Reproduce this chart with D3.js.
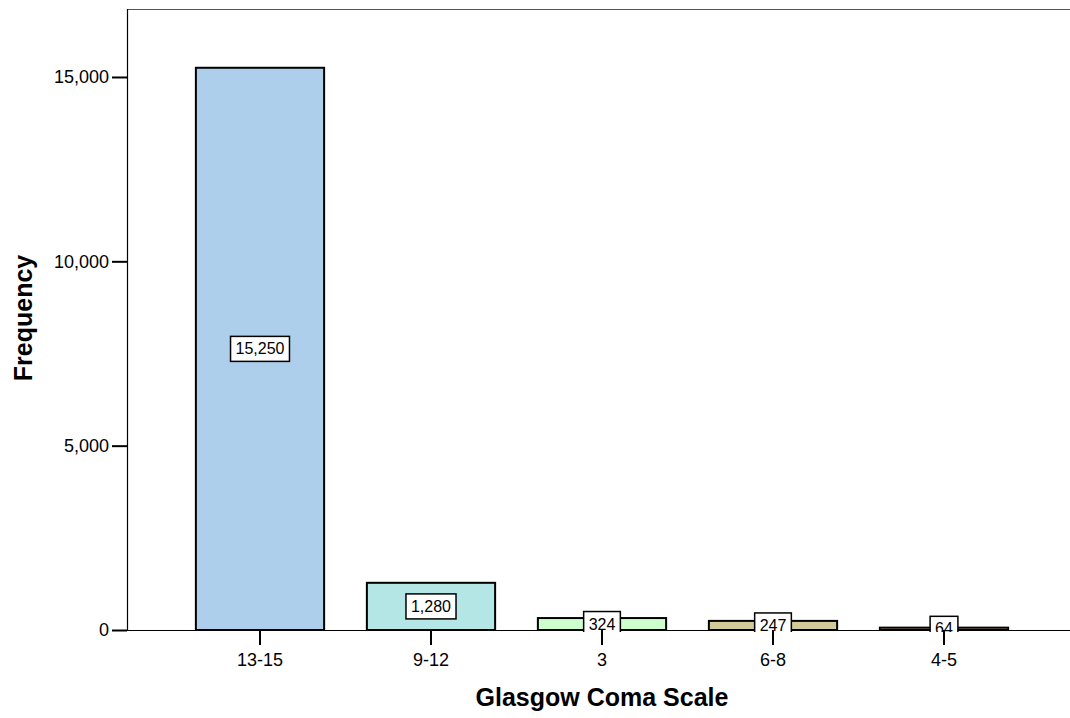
<!DOCTYPE html>
<html>
<head>
<meta charset="utf-8">
<script src="https://cdn.jsdelivr.net/npm/d3@7"></script>
<style>
  html, body { margin: 0; padding: 0; background: #ffffff; }
  svg { display: block; font-family: "Liberation Sans", Arial, sans-serif; }
</style>
</head>
<body>
<svg id="chart" width="1070" height="718"></svg>
<script>
const categories = ["13-15", "9-12", "3", "6-8", "4-5"];
const frequencies = [15250, 1280, 324, 247, 64];
const barColors = ["#aecfec", "#b4e6e6", "#ccffcc", "#d2ca98", "#c8a878"];
const yTicks = [0, 5000, 10000, 15000];
const xTitle = "Glasgow Coma Scale";
const yTitle = "Frequency";

const svg = d3.select("#chart");
const plotLeft = 127, plotRight = 1070, plotTop = 9, plotBottom = 630;

const y = d3.scaleLinear().domain([0, 16844]).range([plotBottom, plotTop]);
const x = d3.scaleBand().domain(categories).range([174.5, 1029.5])
  .paddingInner(0.25).paddingOuter(0.125);

const fmt = d3.format(",");

// clip for data labels
svg.append("defs").append("clipPath").attr("id", "plotClip")
  .append("rect").attr("x", plotLeft).attr("y", plotTop)
  .attr("width", plotRight - plotLeft).attr("height", 632 - plotTop);

// top frame line
svg.append("line").attr("x1", plotLeft).attr("x2", plotRight)
  .attr("y1", plotTop + 0.5).attr("y2", plotTop + 0.5)
  .attr("stroke", "#555").attr("stroke-width", 1.2);

// bars
const rows = categories.map((c, i) => ({ c, v: frequencies[i], col: barColors[i] }));
svg.append("g").selectAll("rect").data(rows).join("rect")
  .attr("x", d => x(d.c))
  .attr("y", d => y(d.v))
  .attr("width", x.bandwidth())
  .attr("height", d => y(0) - y(d.v))
  .attr("fill", d => d.col)
  .attr("stroke", "#000")
  .attr("stroke-width", 2);

// baseline
svg.append("line").attr("x1", plotLeft).attr("x2", plotRight)
  .attr("y1", plotBottom + 0.5).attr("y2", plotBottom + 0.5)
  .attr("stroke", "#000").attr("stroke-width", 1);

// data labels
const lg = svg.append("g").attr("clip-path", "url(#plotClip)");
rows.forEach(d => {
  const cx = x(d.c) + x.bandwidth() / 2;
  const cy = (y(d.v) + y(0)) / 2;
  const g = lg.append("g");
  const t = g.append("text").attr("x", cx).attr("y", cy)
    .attr("text-anchor", "middle").attr("dominant-baseline", "central")
    .attr("font-size", 16).attr("fill", "#000").text(fmt(d.v));
  const w = t.node().getComputedTextLength() + 10;
  const h = 25;
  g.insert("rect", "text").attr("x", cx - w / 2).attr("y", cy - h / 2)
    .attr("width", w).attr("height", h)
    .attr("fill", "#fff").attr("stroke", "#000").attr("stroke-width", 1.5);
});

// y axis
const yAxis = d3.axisLeft(y).tickValues(yTicks).tickFormat(fmt).tickSize(15).tickPadding(3);
const ya = svg.append("g").attr("transform", `translate(${plotLeft},0)`).call(yAxis);
ya.select(".domain").attr("stroke", "#000").attr("stroke-width", 1.2)
  .attr("d", `M0.5,${plotTop}V${plotBottom + 0.5}`);
ya.selectAll(".tick line").attr("stroke", "#000").attr("stroke-width", 2);
ya.selectAll(".tick text").attr("font-size", 18).attr("fill", "#000")
  .attr("font-family", "Liberation Sans, Arial, sans-serif");

// x axis
const xAxis = d3.axisBottom(x).tickSize(15).tickPadding(8);
const xa = svg.append("g").attr("transform", `translate(0,${plotBottom})`).call(xAxis);
xa.select(".domain").remove();
xa.selectAll(".tick line").attr("stroke", "#000").attr("stroke-width", 2);
xa.selectAll(".tick text").attr("font-size", 18).attr("fill", "#000")
  .attr("font-family", "Liberation Sans, Arial, sans-serif");

// titles
svg.append("text").attr("x", 602).attr("y", 706)
  .attr("text-anchor", "middle").attr("font-weight", "bold").attr("font-size", 25)
  .attr("fill", "#000").text(xTitle);
svg.append("text").attr("transform", "translate(32,318) rotate(-90)")
  .attr("text-anchor", "middle").attr("font-weight", "bold").attr("font-size", 25)
  .attr("fill", "#000").text(yTitle);
</script>
</body>
</html>
